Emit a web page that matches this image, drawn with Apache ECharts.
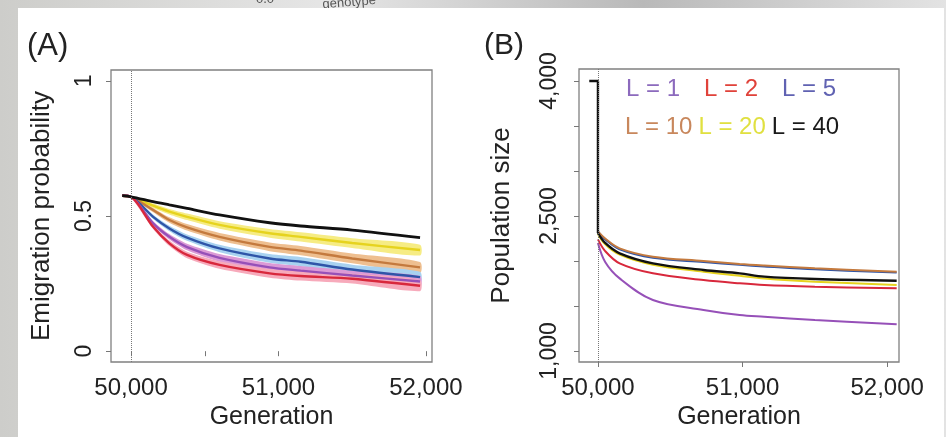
<!DOCTYPE html>
<html>
<head>
<meta charset="utf-8">
<title>Emigration probability and population size</title>
<script src="https://cdn.jsdelivr.net/npm/echarts@6/dist/echarts.min.js"></script>
<style>
    html, body { margin: 0; padding: 0; }
    #chart {
        width: 946px;
        height: 437px;
        background: linear-gradient(to right, #cdcdca 0%, #e6e6e6 35%, #b9b9b9 68%, #e3e3e3 100%);
    }
</style>
</head>
<body>
<div id="chart"></div>
<script>
// (A) emigration probability
var genA = [49940, 50000, 50150, 50260, 50380, 50600, 50940, 51150, 51500, 51960];
var emigL1 = [0.575, 0.571, 0.473, 0.423, 0.385, 0.345, 0.310, 0.298, 0.280, 0.258];
var emigL2 = [0.575, 0.571, 0.460, 0.399, 0.356, 0.319, 0.288, 0.278, 0.268, 0.242];
var emigL5 = [0.575, 0.571, 0.497, 0.454, 0.420, 0.380, 0.343, 0.331, 0.302, 0.274];
var emigL10 = [0.575, 0.571, 0.522, 0.485, 0.458, 0.423, 0.386, 0.372, 0.343, 0.310];
var emigL20 = [0.575, 0.571, 0.538, 0.516, 0.497, 0.467, 0.436, 0.423, 0.400, 0.374];
var emigL40 = [0.575, 0.571, 0.553, 0.541, 0.528, 0.504, 0.475, 0.463, 0.448, 0.420];
// half width of the shaded bands
var bandA = [0.003, 0.004, 0.008, 0.010, 0.012, 0.014, 0.016, 0.017, 0.018, 0.020];

// (B) population size
var genB = [50000, 50050, 50150, 50380, 50730, 50980, 51150, 51500, 52066];
var popL1 = [2200, 1990, 1807, 1567, 1456, 1400, 1381, 1345, 1297];
var popL2 = [2240, 2110, 1974, 1863, 1789, 1752, 1733, 1715, 1696];
var popL5 = [2325, 2240, 2130, 2035, 1988, 1957, 1940, 1908, 1872];
var popL10 = [2330, 2250, 2141, 2048, 2000, 1967, 1950, 1920, 1881];
var popL20 = [2300, 2185, 2070, 1958, 1880, 1835, 1805, 1770, 1733];
var popL40 = [2311, 2200, 2085, 1974, 1900, 1863, 1826, 1800, 1781];
// before generation 50,000 the population sits at 4,000
var genStartB = [49940, 50000, 50000];
var popStartB = [4000, 4000, 2311];

var ticksA = [50000, 50500, 51000, 52000];
var genLabels = [50000, 51000, 52000];
var probTicks = [0, 0.5, 1];
var popTicks = [1000, 1500, 2000, 2500, 3000, 3500, 4000];
var popLabels = [1000, 2500, 4000];

var FONT = "'Liberation Sans', Arial, Helvetica, sans-serif";
var lineColor = {
    'L = 1': '#9650b8', 'L = 2': '#d8283c', 'L = 5': '#2f55a8',
    'L = 10': '#c47a3e', 'L = 20': '#e6d31e', 'L = 40': '#111111'
};
var bandColor = {
    'L = 1': '#dc9ad6', 'L = 2': '#f7aabb', 'L = 5': '#a8d2f0',
    'L = 10': '#eebf90', 'L = 20': '#f6ec84'
};
var legendColor = {
    'L = 1': '#8c6abd', 'L = 2': '#e0423a', 'L = 5': '#6062b2',
    'L = 10': '#c8875c', 'L = 20': '#e0e040', 'L = 40': '#1a1a1a'
};

function pairs(xs, ys) {
    return xs.map(function (x, i) { return [x, ys[i]]; });
}

function comma(v) {
    return String(v).replace(/\B(?=(\d{3})+(?!\d))/g, ',');
}

function lineSeries(name, idx, xs, ys, width, smooth) {
    return {
        name: name,
        type: 'line',
        xAxisIndex: idx,
        yAxisIndex: idx,
        data: pairs(xs, ys),
        smooth: smooth,
        showSymbol: false,
        symbol: 'none',
        z: 3,
        lineStyle: { color: lineColor[name], width: width },
        itemStyle: { color: lineColor[name] }
    };
}

// shaded band round a line, drawn as one polygon through the axis scales
function bandSeries(name, xs, ys, half) {
    var lower = ys.map(function (y, i) { return y - half[i]; });
    var upper = ys.map(function (y, i) { return y + half[i]; });
    return {
        name: 'band ' + name,
        type: 'custom',
        xAxisIndex: 0,
        yAxisIndex: 0,
        z: 1,
        silent: true,
        data: xs.map(function (x, i) { return [x, lower[i], upper[i]]; }),
        encode: { x: 0, y: [1, 2] },
        renderItem: function (params, api) {
            if (params.dataIndex !== 0) return null;
            var pts = [];
            for (var i = 0; i < xs.length; i++) {
                pts.push(api.coord([xs[i], upper[i]]));
            }
            for (var j = xs.length - 1; j >= 0; j--) {
                pts.push(api.coord([xs[j], lower[j]]));
            }
            return {
                type: 'polygon',
                shape: { points: pts, smooth: 0.25 },
                style: { fill: bandColor[name] }
            };
        }
    };
}

var dotted = {
    silent: true,
    symbol: 'none',
    label: { show: false },
    lineStyle: { type: 'dotted', color: '#777', width: 1 },
    data: [{ xAxis: 50000 }]
};

var series = [];
// panel A bands then lines
series.push(bandSeries('L = 20', genA, emigL20, bandA));
series.push(bandSeries('L = 10', genA, emigL10, bandA));
series.push(bandSeries('L = 5', genA, emigL5, bandA));
series.push(bandSeries('L = 1', genA, emigL1, bandA));
series.push(bandSeries('L = 2', genA, emigL2, bandA));
series.push(lineSeries('L = 20', 0, genA, emigL20, 2.4, 0.3));
series.push(lineSeries('L = 10', 0, genA, emigL10, 2.4, 0.3));
series.push(lineSeries('L = 5', 0, genA, emigL5, 2.4, 0.3));
series.push(lineSeries('L = 1', 0, genA, emigL1, 2.4, 0.3));
series.push(lineSeries('L = 2', 0, genA, emigL2, 2.4, 0.3));
var blackA = lineSeries('L = 40', 0, genA, emigL40, 2.8, 0.3);
blackA.markLine = dotted;
series.push(blackA);

// panel B
series.push(lineSeries('L = 1', 1, genB, popL1, 2, 0.35));
series.push(lineSeries('L = 2', 1, genB, popL2, 2, 0.35));
series.push(lineSeries('L = 5', 1, genB, popL5, 2, 0.35));
series.push(lineSeries('L = 10', 1, genB, popL10, 2, 0.35));
series.push(lineSeries('L = 20', 1, genB, popL20, 2, 0.35));
series.push(lineSeries('L = 40', 1, genB, popL40, 2.4, 0.35));
var startB = lineSeries('L = 40', 1, genStartB, popStartB, 2.4, false);
startB.markLine = dotted;
series.push(startB);

function xAxisFor(idx, min, max, ticks) {
    return {
        type: 'value',
        gridIndex: idx,
        min: min,
        max: max,
        name: 'Generation',
        nameLocation: 'middle',
        nameGap: 38,
        nameTextStyle: { fontSize: 25, color: '#222', fontFamily: FONT },
        splitLine: { show: false },
        axisLine: { show: false },
        axisTick: { show: true, length: 5, customValues: ticks, lineStyle: { color: '#777' } },
        axisLabel: {
            customValues: genLabels,
            margin: 14,
            fontSize: 24,
            color: '#222',
            fontFamily: FONT,
            formatter: function (v) { return comma(v); }
        }
    };
}

function yAxisFor(idx, min, max, ticks, labels, name, gap, margin, fmt) {
    return {
        type: 'value',
        gridIndex: idx,
        min: min,
        max: max,
        name: name,
        nameLocation: 'middle',
        nameGap: gap,
        nameTextStyle: { fontSize: 26, color: '#222', fontFamily: FONT },
        splitLine: { show: false },
        axisLine: { show: false },
        axisTick: { show: true, length: 5, customValues: ticks, lineStyle: { color: '#777' } },
        axisLabel: {
            customValues: labels,
            rotate: 90,
            margin: margin,
            fontSize: 23,
            color: '#222',
            fontFamily: FONT,
            formatter: fmt
        }
    };
}

var option = {
    animation: false,
    backgroundColor: 'transparent',
    graphic: [
        { type: 'rect', z: -10, shape: { x: 18, y: 8, width: 926, height: 440 }, style: { fill: '#ffffff' } },
        { type: 'text', z: -20, left: 256, top: -7, style: { text: '0.0', fontSize: 13, fill: '#555', fontFamily: FONT } },
        { type: 'text', z: -20, left: 322, top: -6, rotation: 0.08, style: { text: 'genotype', fontSize: 13, fill: '#555', fontFamily: FONT } },
        { type: 'text', left: 27, top: 31, style: { text: '(A)', fontSize: 31, fill: '#222', fontFamily: FONT } },
        { type: 'text', left: 484, top: 31, style: { text: '(B)', fontSize: 30, fill: '#222', fontFamily: FONT } }
    ],
    legend: [{
        data: ['L = 1', 'L = 2', 'L = 5'].map(function (n) {
            return { name: n, textStyle: { color: legendColor[n] } };
        }),
        left: 621, top: 77, padding: 0, itemGap: 19,
        itemWidth: 0, itemHeight: 0, icon: 'rect', selectedMode: false,
        textStyle: { fontSize: 24, fontFamily: FONT }
    }, {
        data: ['L = 10', 'L = 20', 'L = 40'].map(function (n) {
            return { name: n, textStyle: { color: legendColor[n] } };
        }),
        left: 620, top: 115, padding: 0, itemGap: 1,
        itemWidth: 0, itemHeight: 0, icon: 'rect', selectedMode: false,
        textStyle: { fontSize: 24, fontFamily: FONT }
    }],
    grid: [
        { left: 111, top: 70, width: 321, height: 292, show: true, borderColor: '#808080', borderWidth: 1.3, backgroundColor: 'transparent' },
        { left: 579, top: 69, width: 320, height: 293, show: true, borderColor: '#808080', borderWidth: 1.3, backgroundColor: 'transparent' }
    ],
    xAxis: [
        xAxisFor(0, 49864, 52041, ticksA),
        xAxisFor(1, 49869, 52082, genLabels)
    ],
    yAxis: [
        yAxisFor(0, -0.04, 1.04, probTicks, probTicks, 'Emigration probability', 56, 15,
            function (v) { return String(v); }),
        yAxisFor(1, 878, 4133, popTicks, popLabels, 'Population size', 64, 18,
            function (v) { return comma(v); })
    ],
    series: series
};

var chart = echarts.init(document.getElementById('chart'), null, { renderer: 'canvas' });
chart.setOption(option);
</script>
</body>
</html>
